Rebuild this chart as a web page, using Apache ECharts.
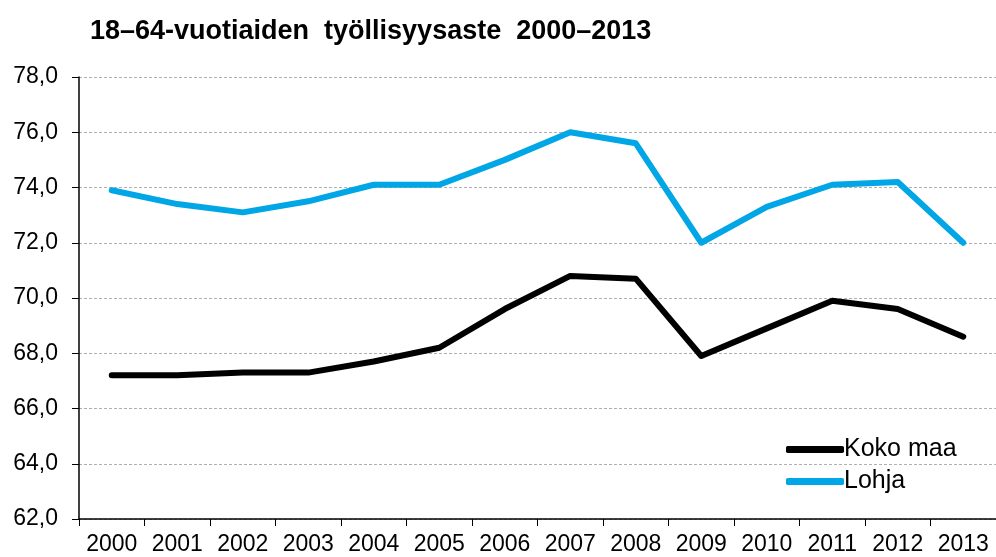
<!DOCTYPE html>
<html>
<head>
<meta charset="utf-8">
<script src="https://cdn.jsdelivr.net/npm/echarts@6/dist/echarts.min.js"></script>
<style>
  html, body { margin: 0; padding: 0; background: #fff; }
  #chart { width: 996px; height: 557px; }
</style>
</head>
<body>
<div id="chart"></div>
<script>
// vuodet
var years = ["2000", "2001", "2002", "2003", "2004", "2005", "2006",
             "2007", "2008", "2009", "2010", "2011", "2012", "2013"];
var kokoMaa = [67.2, 67.2, 67.3, 67.3, 67.7, 68.2, 69.6, 70.8, 70.7, 67.9, 68.9, 69.9, 69.6, 68.6];
var lohja = [73.9, 73.4, 73.1, 73.5, 74.1, 74.1, 75.0, 76.0, 75.6, 72.0, 73.3, 74.1, 74.2, 72.0];

var font = "Liberation Sans, Arial, sans-serif";

var chart = echarts.init(document.getElementById("chart"));

var option = {
    animation: false,
    title: {
        text: "18–64-vuotiaiden  työllisyysaste  2000–2013",
        left: 85,
        top: 13,
        textStyle: { fontFamily: font, fontWeight: "bold", fontSize: 27, color: "#000" }
    },
    legend: {
        orient: "vertical",
        left: 781,
        top: 432,
        itemWidth: 58,
        itemHeight: 7,
        itemGap: 7,
        icon: "roundRect",
        textStyle: { fontFamily: font, fontSize: 25, color: "#000", padding: [0, 0, 0, -5] },
        data: ["Koko maa", "Lohja"]
    },
    grid: { left: 79, right: -5, top: 77, bottom: 38 },
    xAxis: {
        type: "category",
        data: years,
        boundaryGap: true,
        axisLine: { lineStyle: { color: "#000", width: 1.5 } },
        axisTick: { show: true, interval: 0, length: 7, inside: false, lineStyle: { color: "#000" } },
        axisLabel: { interval: 0, hideOverlap: false, fontFamily: font, fontSize: 23, color: "#000", margin: 14 }
    },
    yAxis: {
        type: "value",
        min: 62,
        max: 78,
        interval: 2,
        axisLine: { show: true, lineStyle: { color: "#000", width: 1.5 } },
        axisTick: { show: true, length: 7, lineStyle: { color: "#000" } },
        axisLabel: {
            fontFamily: font, fontSize: 23, color: "#000", margin: 21,
            formatter: function(v) { return v.toFixed(1).replace(".", ","); }
        },
        splitLine: { show: true, lineStyle: { color: "#b0b0b0", type: [3, 2], width: 1 } }
    },
    series: [
        {
            name: "Koko maa",
            type: "line",
            data: kokoMaa,
            symbol: "none",
            color: "#000000",
            lineStyle: { width: 6, color: "#000000", cap: "round", join: "round" }
        },
        {
            name: "Lohja",
            type: "line",
            data: lohja,
            symbol: "none",
            color: "#00a6e6",
            lineStyle: { width: 6, color: "#00a6e6", cap: "round", join: "round" }
        }
    ]
};

chart.setOption(option);
</script>
</body>
</html>
